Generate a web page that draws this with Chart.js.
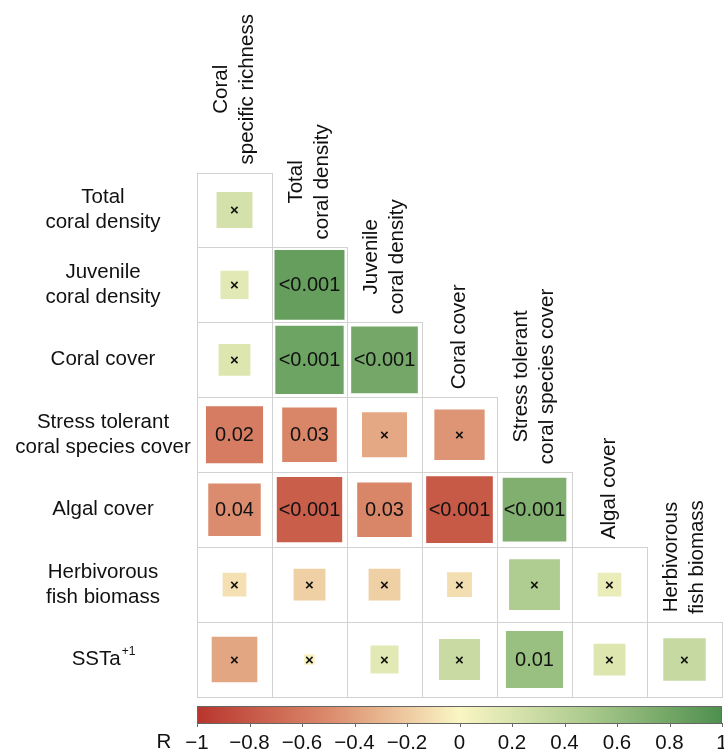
<!DOCTYPE html>
<html>
<head>
<meta charset="utf-8">
<script src="https://cdn.jsdelivr.net/npm/chart.js@4.4.1/dist/chart.umd.min.js"></script>
<style>
  html, body { margin: 0; padding: 0; background: #fff; }
  #wrap { width: 724px; height: 754px; }
</style>
</head>
<body>
<div id="wrap"><canvas id="corrChart" width="724" height="754"></canvas></div>
<script>
// variables (rows = y, columns = x), lower triangle
const rowLabels = [['Total', 'coral density'], ['Juvenile', 'coral density'], ['Coral cover'],
  ['Stress tolerant', 'coral species cover'], ['Algal cover'], ['Herbivorous', 'fish biomass'], ['SSTa']];
const rowSup = ['', '', '', '', '', '', '+1'];
const colLabels = [['Coral', 'specific richness'], ['Total', 'coral density'], ['Juvenile', 'coral density'],
  ['Coral cover'], ['Stress tolerant', 'coral species cover'], ['Algal cover'], ['Herbivorous', 'fish biomass']];

// Pearson R, row by row (col 0..row)
const rValues = [
  [0.23],
  [0.14, 0.87],
  [0.18, 0.83, 0.79],
  [-0.58, -0.53, -0.36, -0.45],
  [-0.49, -0.76, -0.53, -0.79, 0.72],
  [-0.10, -0.18, -0.18, -0.11, 0.46, 0.10],
  [-0.37, -0.02, 0.14, 0.30, 0.58, 0.18, 0.32]
];
// p values shown in the cells (× = not significant)
const pLabels = [
  ['×'],
  ['×', '<0.001'],
  ['×', '<0.001', '<0.001'],
  ['0.02', '0.03', '×', '×'],
  ['0.04', '<0.001', '0.03', '<0.001', '<0.001'],
  ['×', '×', '×', '×', '×', '×'],
  ['×', '×', '×', '×', '0.01', '×', '×']
];
const colorbarTicks = [-1, -0.8, -0.6, -0.4, -0.2, 0, 0.2, 0.4, 0.6, 0.8, 1];

const FONT = "'Liberation Sans', Arial, sans-serif";
const palette = [[-1, [184, 53, 45]], [-0.5, [219, 138, 108]], [0, [250, 246, 196]], [0.5, [169, 201, 139]], [1, [78, 143, 78]]];

function rColor(v) {
  for (let i = 0; i < palette.length - 1; i++) {
    const [a, ca] = palette[i], [b, cb] = palette[i + 1];
    if (v >= a && v <= b) {
      const t = (v - a) / (b - a);
      const c = ca.map((x, k) => Math.round(x + (cb[k] - x) * t));
      return `rgb(${c[0]},${c[1]},${c[2]})`;
    }
  }
  return 'rgb(250,246,196)';
}

const points = [];
rValues.forEach((row, r) => row.forEach((v, c) => points.push({ x: c, y: r, v: v, p: pLabels[r][c] })));

const cellPx = chart => chart.scales.x.getPixelForValue(1) - chart.scales.x.getPixelForValue(0);

const decorPlugin = {
  id: 'decor',
  beforeDatasetsDraw(chart) {
    const ctx = chart.ctx, xs = chart.scales.x, ys = chart.scales.y;
    ctx.save();
    ctx.strokeStyle = '#d2d2d2';
    ctx.lineWidth = 1;
    rValues.forEach((row, r) => row.forEach((v, c) => {
      const x0 = Math.round(xs.getPixelForValue(c - 0.5)) + 0.5;
      const x1 = Math.round(xs.getPixelForValue(c + 0.5)) + 0.5;
      const y0 = Math.round(ys.getPixelForValue(r - 0.5)) + 0.5;
      const y1 = Math.round(ys.getPixelForValue(r + 0.5)) + 0.5;
      ctx.strokeRect(x0, y0, x1 - x0, y1 - y0);
    }));
    ctx.restore();
  },
  afterDatasetsDraw(chart) {
    const ctx = chart.ctx, xs = chart.scales.x, ys = chart.scales.y;
    ctx.save();
    ctx.fillStyle = '#111';
    ctx.textAlign = 'center';
    ctx.textBaseline = 'middle';
    points.forEach(pt => {
      const px = xs.getPixelForValue(pt.x), py = ys.getPixelForValue(pt.y);
      if (pt.p === '×') {
        ctx.font = 'bold 15px ' + FONT;
        ctx.fillText('×', px, py + 1);
      } else {
        ctx.font = '20px ' + FONT;
        ctx.fillText(pt.p, px, py + 1);
      }
    });

    // row labels
    ctx.font = '20.5px ' + FONT;
    rowLabels.forEach((lines, r) => {
      const cy = ys.getPixelForValue(r);
      lines.forEach((t, i) => {
        const y = cy + (i - (lines.length - 1) / 2) * 25;
        if (rowSup[r]) {
          ctx.font = '20.5px ' + FONT;
          const w1 = ctx.measureText(t).width;
          ctx.font = '12px ' + FONT;
          const w2 = ctx.measureText(rowSup[r]).width;
          const x0 = 103 - (w1 + w2) / 2;
          ctx.textAlign = 'left';
          ctx.font = '20.5px ' + FONT;
          ctx.fillText(t, x0, y);
          ctx.font = '12px ' + FONT;
          ctx.fillText(rowSup[r], x0 + w1 + 1, y - 8);
          ctx.textAlign = 'center';
          ctx.font = '20.5px ' + FONT;
        } else {
          ctx.fillText(t, 103, y);
        }
      });
    });

    // column labels (rotated, sitting above the top cell of each column)
    colLabels.forEach((lines, c) => {
      const cx = xs.getPixelForValue(c);
      const top = ys.getPixelForValue(c - 0.5);
      const maxW = Math.max(...lines.map(t => ctx.measureText(t).width));
      ctx.save();
      ctx.translate(cx, top - 8);
      ctx.rotate(-Math.PI / 2);
      lines.forEach((t, i) => {
        ctx.fillText(t, maxW / 2, (i - (lines.length - 1) / 2) * 26);
      });
      ctx.restore();
    });
    ctx.restore();
  },
  afterDraw(chart) {
    const ctx = chart.ctx;
    const left = 197, right = 722, top = 706, bottom = 723;
    const toX = v => left + (v + 1) / 2 * (right - left);
    ctx.save();
    const g = ctx.createLinearGradient(left, 0, right, 0);
    palette.forEach(([v]) => g.addColorStop((v + 1) / 2, rColor(v)));
    ctx.fillStyle = g;
    ctx.fillRect(left, top, right - left, bottom - top);
    ctx.strokeStyle = '#666';
    ctx.lineWidth = 1;
    ctx.strokeRect(left + 0.5, top + 0.5, right - left - 1, bottom - top);
    ctx.beginPath();
    colorbarTicks.forEach(v => {
      const x = Math.round(toX(v)) + 0.5;
      ctx.moveTo(x, bottom);
      ctx.lineTo(x, bottom + 4);
    });
    ctx.stroke();
    ctx.fillStyle = '#111';
    ctx.font = '20.5px ' + FONT;
    ctx.textAlign = 'center';
    ctx.textBaseline = 'middle';
    colorbarTicks.forEach(v => {
      const s = v === 0 ? '0' : (v < 0 ? '\u2212' : '') + String(Math.abs(v));
      ctx.fillText(s, toX(v), 743);
    });
    ctx.fillText('R', 164, 742);
    ctx.restore();
  }
};

new Chart(document.getElementById('corrChart'), {
  type: 'scatter',
  data: {
    datasets: [{
      data: points,
      pointStyle: 'rect',
      pointRadius: ctx => cellPx(ctx.chart) * Math.sqrt(Math.abs(ctx.raw.v)) / Math.SQRT2,
      pointHoverRadius: ctx => cellPx(ctx.chart) * Math.sqrt(Math.abs(ctx.raw.v)) / Math.SQRT2,
      pointBackgroundColor: ctx => rColor(ctx.raw.v),
      pointBorderWidth: 0,
      pointBorderColor: 'rgba(0,0,0,0)'
    }]
  },
  options: {
    responsive: false,
    animation: false,
    events: [],
    layout: { padding: { left: 197, right: 2, top: 172.5, bottom: 57 } },
    plugins: { legend: { display: false }, tooltip: { enabled: false } },
    scales: {
      x: { type: 'linear', min: -0.5, max: 6.5, display: false },
      y: { type: 'linear', min: -0.5, max: 6.5, reverse: true, display: false }
    }
  },
  plugins: [decorPlugin]
});
</script>
</body>
</html>
